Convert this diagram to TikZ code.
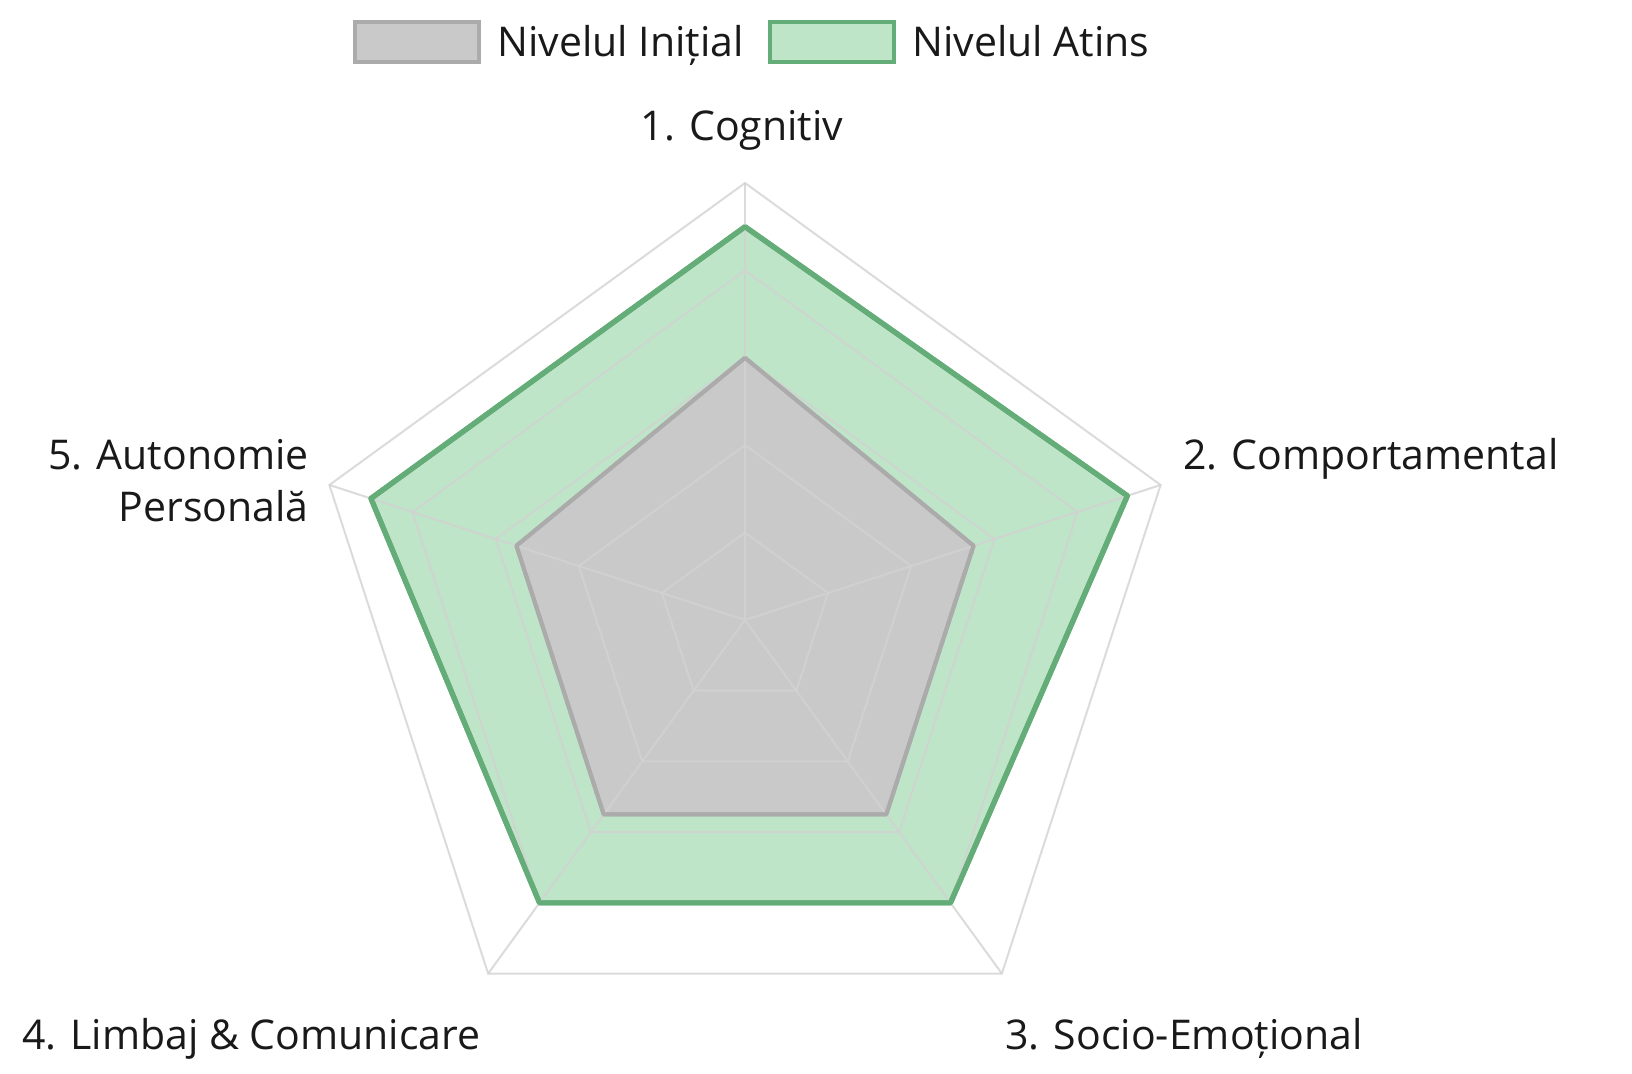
\documentclass[tikz,border=0pt]{standalone}
\usepackage{fontspec}
\setmainfont{Open Sans}
\usetikzlibrary{calc}
\definecolor{gridgray}{HTML}{D2D2D2}
\definecolor{initfill}{HTML}{C9C9C9}
\definecolor{initline}{HTML}{ABABAB}
\definecolor{atinsfill}{HTML}{BEE5C8}
\definecolor{atinsline}{HTML}{64AC78}
\begin{document}
\begin{tikzpicture}
[x=0.5pt,y=0.5pt,
  gridline/.style={draw=gridgray,line width=1pt},
  initarea/.style={fill=initfill,draw=initline,line width=2pt,line join=round},
  atinsarea/.style={fill=atinsfill,draw=atinsline,line width=2.6pt,line join=round},
  axislabel/.style={font=\fontsize{20.5}{26}\selectfont,text=black!90,inner sep=0pt},
  legendbox/.style={line width=1.6pt,minimum width=62pt,minimum height=20pt,inner sep=0pt}]
\useasboundingbox (0,0) rectangle (1632,-1073);
\coordinate (c) at (745,-620);
% outer vertices
\foreach \k/\ang in {1/90,2/18,3/-54,4/-126,5/162}
  \coordinate (v\k) at ($(c)+(\ang:437)$);
% attained level
\path[atinsarea] ($(c)+(90:437*0.9)$) -- ($(c)+(18:437*0.92)$) -- ($(c)+(-54:437*0.8)$)
  -- ($(c)+(-126:437*0.8)$) -- ($(c)+(162:437*0.9)$) -- cycle;
% initial level
\path[initarea] ($(c)+(90:437*0.6)$) -- ($(c)+(18:437*0.55)$) -- ($(c)+(-54:437*0.55)$)
  -- ($(c)+(-126:437*0.55)$) -- ($(c)+(162:437*0.55)$) -- cycle;
% grid
\foreach \lvl in {0.2,0.4,0.6,0.8,1}
  \draw[gridline,opacity=0.8] ($(c)+(90:437*\lvl)$) -- ($(c)+(18:437*\lvl)$) -- ($(c)+(-54:437*\lvl)$)
    -- ($(c)+(-126:437*\lvl)$) -- ($(c)+(162:437*\lvl)$) -- cycle;
\foreach \k in {1,...,5}
  \draw[gridline,opacity=0.8] (c) -- (v\k);
% outlines again on top of grid
\draw[initarea,fill=none] ($(c)+(90:437*0.6)$) -- ($(c)+(18:437*0.55)$) -- ($(c)+(-54:437*0.55)$)
  -- ($(c)+(-126:437*0.55)$) -- ($(c)+(162:437*0.55)$) -- cycle;
\draw[atinsarea,fill=none] ($(c)+(90:437*0.9)$) -- ($(c)+(18:437*0.92)$) -- ($(c)+(-54:437*0.8)$)
  -- ($(c)+(-126:437*0.8)$) -- ($(c)+(162:437*0.9)$) -- cycle;
% axis labels
\node (cog) at (742,-140) [axislabel,anchor=base] {1. Cognitiv};
\node (comp) at (1183,-469) [axislabel,anchor=base west] {2. Comportamental};
\node (socio) at (1005,-1049) [axislabel,anchor=base west] {3. Socio-Emoțional};
\node (limb) at (481,-1049) [axislabel,anchor=base east] {4. Limbaj \& Comunicare};
\node (auto) at (309,-521) [axislabel,anchor=base east,align=right] {5. Autonomie\\Personală};
% legend
\node (boxinit) at (417,-42) [legendbox,fill=initfill,draw=initline] {};
\node (txtinit) [axislabel,anchor=base west] at (497,-56) {Nivelul Inițial};
\node (boxatins) at (832,-42) [legendbox,fill=atinsfill,draw=atinsline] {};
\node (txtatins) [axislabel,anchor=base west] at (912,-56) {Nivelul Atins};
\end{tikzpicture}
\end{document}
